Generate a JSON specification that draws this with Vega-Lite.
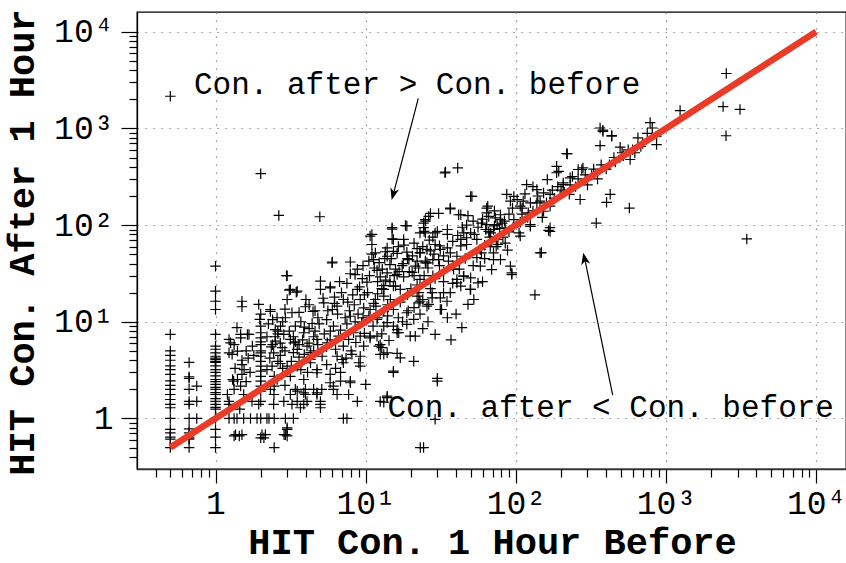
{
  "$schema": "https://vega.github.io/schema/vega-lite/v6.json",
  "width": 709,
  "height": 457,
  "autosize": "none",
  "padding": {"left": 137, "top": 12, "right": 0, "bottom": 94},
  "background": "white",
  "config": {
    "view": {"stroke": "#000", "strokeWidth": 1.3, "fill": "white"},
    "font": "Liberation Mono"
  },
  "datasets": {
    "pts": [
      {"x":0.5,"y":7.4},{"x":0.5,"y":5},{"x":0.5,"y":4.5},{"x":0.5,"y":4},{"x":0.5,"y":3.5},{"x":0.5,"y":3.2},{"x":0.5,"y":2.85},{"x":0.5,"y":2.45},{"x":0.5,"y":2.2},{"x":0.5,"y":2},{"x":0.5,"y":1.77},{"x":0.5,"y":1.57},{"x":0.5,"y":1.4},{"x":0.5,"y":1.29},{"x":0.5,"y":1},{"x":0.5,"y":0.77},{"x":0.5,"y":0.71},{"x":0.5,"y":0.64},{"x":0.5,"y":0.61},{"x":0.5,"y":0.5},{"x":0.5,"y":2150},
      {"x":0.667,"y":3.8},{"x":0.667,"y":2.7},{"x":0.667,"y":2.6},{"x":0.667,"y":2},{"x":0.667,"y":1.5},{"x":0.667,"y":1.4},{"x":0.667,"y":1},{"x":0.667,"y":0.78},{"x":0.667,"y":0.71},{"x":0.667,"y":0.63},{"x":0.667,"y":0.61},{"x":0.667,"y":0.5},
      {"x":0.75,"y":2.16},{"x":0.75,"y":1.5},{"x":0.75,"y":1},
      {"x":1,"y":37.6},{"x":1,"y":20.7},{"x":1,"y":16.3},{"x":1,"y":13.4},{"x":1,"y":7.4},{"x":1,"y":5.6},{"x":1,"y":5.2},{"x":1,"y":4.77},{"x":1,"y":4.4},{"x":1,"y":4.2},{"x":1,"y":4.07},{"x":1,"y":3.9},{"x":1,"y":3.8},{"x":1,"y":3.5},{"x":1,"y":3.2},{"x":1,"y":3},{"x":1,"y":2.75},{"x":1,"y":2.53},{"x":1,"y":2.4},{"x":1,"y":2.25},{"x":1,"y":2.1},{"x":1,"y":2},{"x":1,"y":1.85},{"x":1,"y":1.77},{"x":1,"y":1.6},{"x":1,"y":1.5},{"x":1,"y":1.4},{"x":1,"y":1.3},{"x":1,"y":1.25},{"x":1,"y":1},{"x":1,"y":0.77},{"x":1,"y":0.64},{"x":1,"y":0.5},
      {"x":1.23,"y":6.56},{"x":1.33,"y":5.8},{"x":1.4,"y":4.97},{"x":1.47,"y":7.4},{"x":1.23,"y":4.77},{"x":1.3,"y":2.53},{"x":1.33,"y":2},{"x":1.23,"y":1.5},{"x":1.33,"y":1},{"x":1.23,"y":1},{"x":1.33,"y":0.66},{"x":1.44,"y":0.66},{"x":1.4,"y":2.53},{"x":1.55,"y":3.2},{"x":1.26,"y":6.06},{"x":1.29,"y":4.6},{"x":1.39,"y":8.7},{"x":1.47,"y":6.8},{"x":1.5,"y":3.6},{"x":1.5,"y":2.85},{"x":1.47,"y":2.16},{"x":1.32,"y":2.43},{"x":1.5,"y":16.3},{"x":1.5,"y":14.3},{"x":1.36,"y":0.68},{"x":1.5,"y":0.68},{"x":1.39,"y":1},{"x":1.54,"y":1},{"x":1.23,"y":1.4},{"x":1.2,"y":1.77},{"x":1.54,"y":1.77},{"x":1.63,"y":7.4},{"x":1.67,"y":7.4},{"x":1.76,"y":5.6},{"x":1.71,"y":1},{"x":1.89,"y":1},{"x":1.6,"y":2.4},{"x":1.7,"y":3},{"x":1.65,"y":4.2},{"x":1.8,"y":4.5},{"x":1.75,"y":1.5},{"x":1.45,"y":1.25},{"x":1.35,"y":3.3},{"x":1.5,"y":4},{"x":1.6,"y":5},
      {"x":2,"y":340},{"x":1.94,"y":15.1},{"x":1.97,"y":10.6},{"x":2,"y":9},{"x":2,"y":7.7},{"x":2,"y":6.8},{"x":2,"y":5.8},{"x":2,"y":5},{"x":2,"y":4.4},{"x":2,"y":3.9},{"x":2,"y":3.47},{"x":2,"y":3.08},{"x":2,"y":2.73},{"x":2,"y":2.43},{"x":2,"y":2.16},{"x":2,"y":1.92},{"x":2,"y":1.5},{"x":2,"y":1},{"x":2,"y":0.63},{"x":1.94,"y":1.4},{"x":2.04,"y":0.68},{"x":2.1,"y":0.63},{"x":2.15,"y":0.68},{"x":2,"y":6.2},{"x":2,"y":4.77},{"x":2,"y":12},
      {"x":2.32,"y":13.4},{"x":2.32,"y":12.8},{"x":2.5,"y":8.3},{"x":2.5,"y":6.3},{"x":2.44,"y":4.77},{"x":2.38,"y":3.47},{"x":2.71,"y":9},{"x":2.85,"y":7.4},{"x":2.78,"y":5.4},{"x":2.57,"y":11},{"x":2.92,"y":11},{"x":2.97,"y":30},{"x":2.64,"y":126},{"x":2.57,"y":2.53},{"x":2.27,"y":1},{"x":2.46,"y":1},{"x":2.2,"y":1},{"x":2.92,"y":1},{"x":2.46,"y":0.5},{"x":2.86,"y":0.68},{"x":2.92,"y":0.68},{"x":3,"y":0.77},{"x":3,"y":0.8},{"x":3,"y":0.66},{"x":2.44,"y":1.4},{"x":2.32,"y":2},{"x":2.46,"y":2.16},{"x":2.46,"y":2.73},{"x":2.6,"y":3.9},{"x":2.7,"y":4.5},{"x":2.7,"y":6},{"x":2.5,"y":7},{"x":2.6,"y":8},{"x":2.85,"y":1.5},{"x":3.3,"y":1},{"x":2.45,"y":1.77},{"x":2.9,"y":2.2},{"x":2.8,"y":3.3},{"x":2.35,"y":5.5},{"x":2.25,"y":9.5},
      {"x":3.1,"y":21.2},{"x":3.45,"y":20.2},{"x":3,"y":17},{"x":3.23,"y":12.4},{"x":3.97,"y":14.3},{"x":4.46,"y":12.8},{"x":3.15,"y":6.56},{"x":3.32,"y":6.06},{"x":3.5,"y":5.17},{"x":3.87,"y":7.7},{"x":4.07,"y":5.6},{"x":4.29,"y":4.07},{"x":4.74,"y":6.56},{"x":3,"y":3.47},{"x":3.5,"y":1.92},{"x":3.87,"y":2.53},{"x":3.87,"y":1.84},{"x":4.74,"y":2.97},{"x":4.74,"y":1.84},{"x":3.15,"y":2.73},{"x":3.5,"y":3.47},{"x":4.29,"y":3.77},{"x":4.74,"y":3.2},{"x":3.4,"y":2},{"x":3.97,"y":2},{"x":4.5,"y":2},{"x":3.5,"y":1.5},{"x":3.68,"y":1.29},{"x":4.07,"y":1.5},{"x":3.23,"y":1.4},{"x":3.87,"y":1.4},{"x":3.15,"y":1.77},{"x":3.97,"y":1.77},{"x":4.74,"y":1.77},{"x":3.15,"y":21.6},{"x":3.5,"y":20.7},{"x":3,"y":30},{"x":3.4,"y":9},{"x":3.7,"y":10},{"x":4.2,"y":8.5},{"x":3.6,"y":4.3},{"x":4.5,"y":5},{"x":4.1,"y":3},{"x":3.3,"y":4.8},{"x":3.8,"y":6.5},{"x":4.4,"y":9.6},{"x":4.8,"y":11},{"x":4,"y":17},{"x":4.5,"y":7},
      {"x":2.2,"y":3.2},{"x":2.3,"y":4.2},{"x":2.4,"y":5.8},{"x":2.6,"y":7.5},{"x":2.8,"y":10},{"x":3.1,"y":8},{"x":3.3,"y":7},{"x":3.6,"y":5.8},{"x":3.9,"y":4.6},{"x":4.2,"y":6},{"x":4.6,"y":8},{"x":4.9,"y":9.5},{"x":2.7,"y":3.7},{"x":3.2,"y":3.9},{"x":3.7,"y":3.2},{"x":4.3,"y":4.8},{"x":4.8,"y":5.8},{"x":2.9,"y":5},{"x":3.4,"y":6.2},{"x":3.9,"y":8.8},{"x":4.6,"y":13},{"x":4.2,"y":15},{"x":3.6,"y":12.5},{"x":2.9,"y":13.5},{"x":2.4,"y":10.5},{"x":2.2,"y":7},
      {"x":5,"y":26.3},{"x":5,"y":21.6},{"x":5.26,"y":15.7},{"x":5.82,"y":23},{"x":5.97,"y":40.7},{"x":7.9,"y":41.5},{"x":7.9,"y":31.4},{"x":8.8,"y":21.6},{"x":9.2,"y":17},{"x":7.1,"y":17},{"x":6.45,"y":14.5},{"x":6,"y":13.4},{"x":7.9,"y":11.4},{"x":9.7,"y":13.9},{"x":5.13,"y":4.4},{"x":5.55,"y":6.06},{"x":5.82,"y":8},{"x":6.1,"y":9},{"x":6.6,"y":7.1},{"x":7.1,"y":5.6},{"x":7.7,"y":6.56},{"x":8.3,"y":7.7},{"x":9.2,"y":7.1},{"x":9.7,"y":5.6},{"x":7.1,"y":3.77},{"x":6.45,"y":4.4},{"x":7.9,"y":2.34},{"x":9.2,"y":3.47},{"x":5.8,"y":2.34},{"x":6.1,"y":2.16},{"x":7.5,"y":1},{"x":8.8,"y":1.5},{"x":7.1,"y":1},{"x":9,"y":3.77},{"x":7.9,"y":2.43},{"x":6.1,"y":2},{"x":5,"y":1.5},{"x":5,"y":1.29},{"x":5.1,"y":2},{"x":6.8,"y":2.43},{"x":5.8,"y":2.85},{"x":6.97,"y":4.07},{"x":8.1,"y":4.6},{"x":9.2,"y":4.4},{"x":6.45,"y":1.77},{"x":7.7,"y":1.77},{"x":5,"y":1.4},{"x":4.95,"y":122},{"x":5.8,"y":22.4},{"x":8.5,"y":30.8},{"x":6,"y":41.5},{"x":10,"y":2.25},{"x":5.5,"y":10.5},{"x":6.5,"y":12},{"x":7.5,"y":9.5},{"x":8.5,"y":10},{"x":6.2,"y":18},{"x":7.5,"y":25},{"x":9.5,"y":28},{"x":5.5,"y":5.5},{"x":8,"y":5},{"x":6.8,"y":3},{"x":9.4,"y":9.8},
      {"x":5.3,"y":7.5},{"x":5.8,"y":6.5},{"x":6.3,"y":5.2},{"x":6.8,"y":8.2},{"x":7.3,"y":11},{"x":7.8,"y":13},{"x":8.4,"y":15},{"x":8.9,"y":12},{"x":9.6,"y":11},{"x":5.6,"y":13},{"x":6.2,"y":15.5},{"x":6.9,"y":20},{"x":7.6,"y":16},{"x":8.2,"y":19},{"x":9.1,"y":23},{"x":9.8,"y":19},{"x":5.2,"y":17.5},{"x":6.7,"y":26},{"x":8.8,"y":35},{"x":9.6,"y":38},{"x":5.5,"y":3.6},{"x":6.3,"y":3.3},{"x":7.4,"y":4.2},{"x":8.6,"y":6.1},{"x":9.8,"y":7.6},
      {"x":10.5,"y":42.4},{"x":10.2,"y":25.7},{"x":10.7,"y":77},{"x":11,"y":63},{"x":11.9,"y":34},{"x":11.6,"y":51.6},{"x":15,"y":91},{"x":18.4,"y":99},{"x":15,"y":72},{"x":17.9,"y":71},{"x":13.9,"y":58},{"x":16.2,"y":51},{"x":18.8,"y":52.5},{"x":13.9,"y":32},{"x":16.2,"y":30.8},{"x":12.5,"y":29.2},{"x":17.9,"y":29.2},{"x":13.2,"y":23.7},{"x":15.3,"y":23.4},{"x":17,"y":21.6},{"x":13.2,"y":18.4},{"x":14.6,"y":17},{"x":18.8,"y":12.4},{"x":15.3,"y":13.4},{"x":13.2,"y":12.8},{"x":10.7,"y":13.4},{"x":11.9,"y":10.6},{"x":13.9,"y":9.8},{"x":15.3,"y":9},{"x":16.2,"y":7.7},{"x":13.2,"y":9},{"x":11.9,"y":7.1},{"x":10.7,"y":6.8},{"x":12.2,"y":5.6},{"x":13.2,"y":4.6},{"x":16.2,"y":4.7},{"x":15.3,"y":3},{"x":12.5,"y":1.5},{"x":13.9,"y":1.64},{"x":15.3,"y":3.08},{"x":17,"y":4.24},{"x":19.8,"y":7.1},{"x":16.6,"y":7.7},{"x":13.9,"y":4.77},{"x":12.5,"y":4.6},{"x":10.7,"y":7.1},{"x":12.5,"y":5.8},{"x":12.8,"y":5.4},{"x":16.2,"y":8.3},{"x":18.8,"y":9.4},{"x":13.2,"y":1.47},{"x":13.9,"y":1.7},{"x":15,"y":94},{"x":11,"y":80},{"x":11,"y":50},{"x":13.9,"y":47.6},{"x":15.3,"y":53.5},{"x":19.4,"y":44},{"x":15.3,"y":71},{"x":18.8,"y":98},{"x":13.5,"y":53},{"x":11.3,"y":44},{"x":12.9,"y":35},{"x":15.8,"y":35},{"x":15.8,"y":23.4},{"x":13.2,"y":21.6},{"x":11.6,"y":17},{"x":11.7,"y":14.5},{"x":14,"y":11.5},{"x":17,"y":16},{"x":19,"y":19},{"x":12,"y":26},{"x":14.5,"y":39},{"x":17.5,"y":38},{"x":19.5,"y":33},{"x":16.5,"y":11},{"x":10.3,"y":20},{"x":14,"y":15},{"x":12,"y":11},
      {"x":10.5,"y":11.5},{"x":11.3,"y":15.5},{"x":12,"y":19.5},{"x":12.8,"y":22},{"x":13.6,"y":27},{"x":14.5,"y":26},{"x":15.5,"y":30},{"x":16.7,"y":33},{"x":17.8,"y":40},{"x":19,"y":45},{"x":20.5,"y":48},{"x":22,"y":57},{"x":24,"y":60},{"x":26.5,"y":70},{"x":28,"y":75},{"x":10.6,"y":30},{"x":11.4,"y":36},{"x":12.3,"y":41},{"x":13.4,"y":45},{"x":14.8,"y":45},{"x":16.5,"y":60},{"x":18,"y":62},{"x":21,"y":30},{"x":22.5,"y":36},{"x":24.5,"y":30},{"x":26,"y":36},{"x":28.5,"y":50},{"x":20,"y":22},{"x":21,"y":14},{"x":23,"y":12},{"x":27,"y":22},{"x":29,"y":28},{"x":11.2,"y":9},{"x":12.8,"y":7.5},{"x":14.3,"y":6.4},{"x":17.6,"y":10},{"x":19.2,"y":13},
      {"x":22,"y":42.4},{"x":25,"y":110},{"x":24.5,"y":86},{"x":25.6,"y":56},{"x":25,"y":42.4},{"x":20.4,"y":32.5},{"x":23,"y":27.4},{"x":22,"y":18.4},{"x":24,"y":17},{"x":25.6,"y":14.5},{"x":22.6,"y":15.7},{"x":20.9,"y":10.6},{"x":21.4,"y":7.1},{"x":20.9,"y":3.9},{"x":23.1,"y":0.5},{"x":24.3,"y":0.5},{"x":34,"y":354},{"x":41,"y":390},{"x":50,"y":198},{"x":36.6,"y":150},{"x":27,"y":132},{"x":30.6,"y":132},{"x":43,"y":128},{"x":48,"y":125},{"x":23,"y":83},{"x":29,"y":83},{"x":35,"y":80},{"x":50,"y":83},{"x":43,"y":61},{"x":47,"y":63},{"x":31,"y":61},{"x":30.6,"y":44},{"x":28,"y":44},{"x":23,"y":52},{"x":25.6,"y":40.7},{"x":21.4,"y":37.6},{"x":38.5,"y":35},{"x":44.8,"y":29.6},{"x":40.5,"y":27.4},{"x":36.6,"y":20},{"x":49.7,"y":21.6},{"x":27.7,"y":20},{"x":22.6,"y":20},{"x":34.8,"y":16.3},{"x":24.3,"y":94},{"x":25,"y":83},{"x":23,"y":51.6},{"x":25,"y":40.6},{"x":33.7,"y":347},{"x":36.6,"y":147},{"x":41.6,"y":128},{"x":24.3,"y":105},{"x":30,"y":86},{"x":35,"y":90},{"x":45,"y":83},{"x":29,"y":63},{"x":27,"y":54},{"x":31.4,"y":56},{"x":36.6,"y":51.6},{"x":35.6,"y":42.4},{"x":40.5,"y":47.6},{"x":43,"y":71},{"x":47,"y":74},{"x":45,"y":29.6},{"x":40.5,"y":25.2},{"x":43,"y":23.4},{"x":33,"y":20},{"x":31.4,"y":17.7},{"x":27.7,"y":17.7},{"x":26.3,"y":15.1},{"x":32,"y":13.4},{"x":23,"y":16.3},{"x":48,"y":15.1},{"x":31.4,"y":13.4},{"x":43.7,"y":8.7},{"x":29,"y":7.4},{"x":30,"y":2.43},{"x":30,"y":2.6},{"x":29,"y":0.98},{"x":25,"y":114},{"x":26.3,"y":123},{"x":21,"y":65},{"x":38,"y":38},{"x":46,"y":45},{"x":28,"y":30},{"x":33,"y":26},{"x":22,"y":24},{"x":26,"y":10},{"x":35,"y":11},{"x":40,"y":12},{"x":37,"y":6.5},{"x":24,"y":8.5},
      {"x":31,"y":38},{"x":33,"y":48},{"x":35,"y":58},{"x":38,"y":68},{"x":41,"y":78},{"x":44,"y":95},{"x":47,"y":100},{"x":52,"y":110},{"x":56,"y":95},{"x":60,"y":115},{"x":63,"y":90},{"x":67,"y":75},{"x":72,"y":98},{"x":78,"y":92},{"x":84,"y":110},{"x":90,"y":130},{"x":95,"y":150},{"x":33,"y":33},{"x":38,"y":25},{"x":42,"y":35},{"x":52,"y":38},{"x":58,"y":56},{"x":62,"y":45},{"x":74,"y":60},{"x":82,"y":75},{"x":90,"y":85},{"x":96,"y":95},
      {"x":51,"y":198},{"x":64,"y":150},{"x":66,"y":123},{"x":79,"y":128},{"x":79,"y":114},{"x":81,"y":105},{"x":59,"y":105},{"x":66,"y":86},{"x":71,"y":90},{"x":85,"y":65},{"x":69,"y":68},{"x":75,"y":71},{"x":55,"y":46},{"x":58,"y":37.6},{"x":71,"y":44},{"x":69,"y":34.7},{"x":92,"y":37.6},{"x":94,"y":30.8},{"x":50,"y":28.5},{"x":56,"y":25.2},{"x":50,"y":21.6},{"x":52.5,"y":17},{"x":65,"y":157},{"x":64,"y":134},{"x":73,"y":119},{"x":64,"y":101},{"x":75,"y":101},{"x":68,"y":83},{"x":55,"y":71},{"x":59,"y":51.7},{"x":71,"y":51.7},{"x":94,"y":32},{"x":79,"y":44},{"x":67.6,"y":60},{"x":76,"y":63},{"x":85,"y":93.5},{"x":87,"y":208},{"x":97,"y":198},{"x":92,"y":177},{"x":97,"y":114},{"x":60,"y":26},{"x":88,"y":55},{"x":62,"y":62},{"x":53,"y":80},{"x":72,"y":140},
      {"x":102,"y":184},{"x":112,"y":177},{"x":110,"y":150},{"x":118,"y":262},{"x":138,"y":233},{"x":162,"y":296},{"x":187,"y":348},{"x":207,"y":273},{"x":125,"y":170},{"x":145,"y":177},{"x":125,"y":97},{"x":169,"y":94},{"x":105,"y":83},{"x":107,"y":77},{"x":134,"y":19},{"x":145,"y":51.6},{"x":165,"y":88},{"x":148,"y":52},{"x":169,"y":86},{"x":107,"y":157},{"x":121,"y":134},{"x":153,"y":139},{"x":138,"y":170},{"x":169,"y":157},{"x":153,"y":215},{"x":220,"y":545},{"x":187,"y":405},{"x":193,"y":360},{"x":260,"y":376},{"x":280,"y":390},{"x":230,"y":308},{"x":207,"y":262},{"x":268,"y":184},{"x":227,"y":208},{"x":169,"y":208},{"x":275,"y":376},{"x":238,"y":318},{"x":125,"y":101},{"x":107,"y":107},{"x":120,"y":120},{"x":180,"y":190},{"x":200,"y":230},{"x":250,"y":250},{"x":150,"y":120},
      {"x":110,"y":130},{"x":130,"y":140},{"x":140,"y":200},{"x":160,"y":170},{"x":175,"y":230},{"x":190,"y":250},{"x":210,"y":220},{"x":230,"y":260},{"x":260,"y":300},{"x":290,"y":330},{"x":330,"y":380},{"x":370,"y":420},{"x":400,"y":380},{"x":460,"y":450},{"x":520,"y":520},{"x":560,"y":600},{"x":620,"y":560},{"x":680,"y":650},{"x":115,"y":210},{"x":130,"y":250},{"x":300,"y":260},{"x":350,"y":300},
      {"x":364,"y":1010},{"x":380,"y":930},{"x":435,"y":830},{"x":364,"y":665},{"x":495,"y":640},{"x":577,"y":477},{"x":510,"y":560},{"x":343,"y":105},{"x":402,"y":172},{"x":425,"y":208},{"x":570,"y":150},{"x":784,"y":1150},{"x":810,"y":1010},{"x":750,"y":890},{"x":865,"y":830},{"x":865,"y":680},{"x":650,"y":800},{"x":380,"y":960},{"x":435,"y":845},{"x":218,"y":550},{"x":420,"y":420},{"x":450,"y":500},{"x":320,"y":330},{"x":600,"y":600},{"x":700,"y":700},
      {"x":1241,"y":1530},{"x":2400,"y":1680},{"x":3110,"y":1570},{"x":2510,"y":840},{"x":3450,"y":72},{"x":2520,"y":3700}
    ]
  },
  "resolve": {"axis": {"x": "independent", "y": "independent"}},
  "layer": [
    {
      "data": {"name": "pts"},
      "mark": {"type": "point", "shape": "M-1,0L1,0M0,-1L0,1", "filled": false, "stroke": "#000", "strokeWidth": 1.2, "size": 110, "opacity": 1},
      "encoding": {
        "x": {"field": "x", "type": "quantitative",
          "scale": {"type": "log", "domain": [0.3, 15800], "nice": false},
          "axis": {"orient": "bottom", "values": [1, 10, 100, 1000, 10000],
            "labelExpr": "datum.value == 1 ? '1' : datum.value == 10 ? '10¹' : datum.value == 100 ? '10²' : datum.value == 1000 ? '10³' : '10⁴'",
            "labelFont": "Liberation Mono", "labelFontSize": 33, "labelColor": "#000", "labelPadding": 4,
            "labelFlush": false, "labelOverlap": false, "labelBound": false,
            "tickSize": 14, "tickColor": "#000", "tickWidth": 1.2,
            "domainColor": "#333", "domainWidth": 1.3,
            "grid": true, "gridColor": "#777", "gridDash": [1.2, 6.8], "gridWidth": 1.2,
            "title": "HIT Con. 1 Hour Before", "titleFont": "Liberation Mono", "titleFontWeight": "bold", "titleFontSize": 37, "titleColor": "#000",
            "titleX": 355, "titleY": 84, "titleBaseline": "alphabetic", "titleAlign": "center", "titleAnchor": null}},
        "y": {"field": "y", "type": "quantitative",
          "scale": {"type": "log", "domain": [0.3, 16000], "nice": false},
          "axis": {"orient": "left", "values": [1, 10, 100, 1000, 10000],
            "labelExpr": "datum.value == 1 ? '1' : datum.value == 10 ? '10¹' : datum.value == 100 ? '10²' : datum.value == 1000 ? '10³' : '10⁴'",
            "labelFont": "Liberation Mono", "labelFontSize": 33, "labelColor": "#000", "labelPadding": 8,
            "labelFlush": false, "labelOverlap": false, "labelBound": false,
            "tickSize": 16, "tickColor": "#000", "tickWidth": 1.2,
            "domainColor": "#000", "domainWidth": 1.3,
            "grid": true, "gridColor": "#777", "gridDash": [1.2, 6.8], "gridWidth": 1.2,
            "title": "HIT Con. After 1 Hour", "titleFont": "Liberation Mono", "titleFontWeight": "bold", "titleFontSize": 37, "titleColor": "#000",
            "titleAngle": 270, "titleX": -104, "titleY": 230, "titleBaseline": "alphabetic", "titleAlign": "center", "titleAnchor": null}}
      }
    },
    {
      "data": {"values": [{"x": 1, "y": 1}]},
      "mark": {"type": "point", "opacity": 0},
      "encoding": {
        "x": {"field": "x", "type": "quantitative",
          "scale": {"type": "log", "domain": [0.3, 15800], "nice": false},
          "axis": {"orient": "bottom", "values": [0.4,0.5,0.6,0.7,0.8,0.9,2,3,4,5,6,7,8,9,20,30,40,50,60,70,80,90,200,300,400,500,600,700,800,900,2000,3000,4000,5000,6000,7000,8000,9000],
            "labels": false, "grid": false, "domain": false, "title": null,
            "tickSize": 8, "tickColor": "#000", "tickWidth": 1.2}},
        "y": {"field": "y", "type": "quantitative",
          "scale": {"type": "log", "domain": [0.3, 16000], "nice": false},
          "axis": {"orient": "left", "values": [0.4,0.5,0.6,0.7,0.8,0.9,2,3,4,5,6,7,8,9,20,30,40,50,60,70,80,90,200,300,400,500,600,700,800,900,2000,3000,4000,5000,6000,7000,8000,9000],
            "labels": false, "grid": false, "domain": false, "title": null,
            "tickSize": 8, "tickColor": "#000", "tickWidth": 1.2}}
      }
    },
    {
      "data": {"values": [{"x": 0.5, "y": 0.5}, {"x": 10000, "y": 10000}]},
      "mark": {"type": "line", "color": "#e93b27", "strokeWidth": 6.5, "strokeCap": "butt"},
      "encoding": {
        "x": {"field": "x", "type": "quantitative", "scale": {"type": "log", "domain": [0.3, 15800], "nice": false}, "axis": null},
        "y": {"field": "y", "type": "quantitative", "scale": {"type": "log", "domain": [0.3, 16000], "nice": false}, "axis": null}
      }
    },
    {
      "data": {"values": [
        {"x": 0.719, "y": 2266, "label": "Con. after > Con. before"},
        {"x": 13.97, "y": 1.04, "label": "Con. after < Con. before"}
      ]},
      "mark": {"type": "text", "align": "left", "baseline": "alphabetic", "font": "Liberation Mono", "fontSize": 31, "color": "#000"},
      "encoding": {
        "x": {"field": "x", "type": "quantitative", "scale": {"type": "log", "domain": [0.3, 15800], "nice": false}, "axis": null},
        "y": {"field": "y", "type": "quantitative", "scale": {"type": "log", "domain": [0.3, 16000], "nice": false}, "axis": null},
        "text": {"field": "label"}
      }
    },
    {
      "data": {"values": [
        {"x": 22.4, "y": 2046, "x2": 15.1, "y2": 195},
        {"x": 441.6, "y": 1.746, "x2": 285, "y2": 48}
      ]},
      "mark": {"type": "rule", "color": "#000", "strokeWidth": 1.2},
      "encoding": {
        "x": {"field": "x", "type": "quantitative", "scale": {"type": "log", "domain": [0.3, 15800], "nice": false}, "axis": null},
        "y": {"field": "y", "type": "quantitative", "scale": {"type": "log", "domain": [0.3, 16000], "nice": false}, "axis": null},
        "x2": {"field": "x2"},
        "y2": {"field": "y2"}
      }
    },
    {
      "data": {"values": [{"x": 14.9, "y": 181.6}]},
      "mark": {"type": "point", "shape": "M0,0L-0.6,1.6L0,1.15L0.6,1.6Z", "filled": true, "color": "#000", "opacity": 1, "size": 225, "angle": 194.7},
      "encoding": {
        "x": {"field": "x", "type": "quantitative", "scale": {"type": "log", "domain": [0.3, 15800], "nice": false}, "axis": null},
        "y": {"field": "y", "type": "quantitative", "scale": {"type": "log", "domain": [0.3, 16000], "nice": false}, "axis": null}
      }
    },
    {
      "data": {"values": [{"x": 281.3, "y": 51.8}]},
      "mark": {"type": "point", "shape": "M0,0L-0.6,1.6L0,1.15L0.6,1.6Z", "filled": true, "color": "#000", "opacity": 1, "size": 225, "angle": 348.3},
      "encoding": {
        "x": {"field": "x", "type": "quantitative", "scale": {"type": "log", "domain": [0.3, 15800], "nice": false}, "axis": null},
        "y": {"field": "y", "type": "quantitative", "scale": {"type": "log", "domain": [0.3, 16000], "nice": false}, "axis": null}
      }
    }
  ]
}
